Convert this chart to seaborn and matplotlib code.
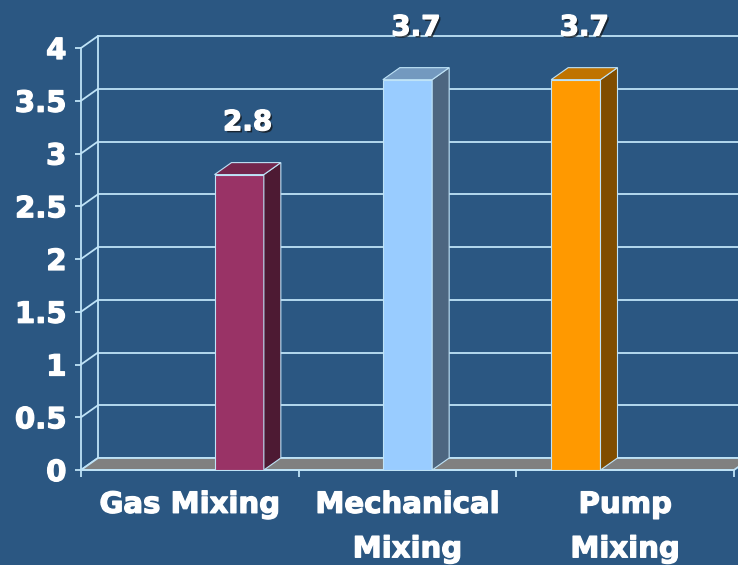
import numpy as np
import pandas as pd
import seaborn as sns
import matplotlib.pyplot as plt
import matplotlib.patheffects as pe
from matplotlib.patches import Polygon, Rectangle
from matplotlib.colors import to_rgb

# ---- data -------------------------------------------------------------
categories = ["Gas Mixing", "Mechanical\nMixing", "Pump\nMixing"]
methods = ["Gas Mixing", "Mechanical Mixing", "Pump Mixing"]
values = [2.8, 3.7, 3.7]
# series order inside each category group (left -> right slot)
slot_order = ["Pump Mixing", "Mechanical Mixing", "Gas Mixing"]
front_colors = {"Gas Mixing": "#993366",
                "Mechanical Mixing": "#99CCFF",
                "Pump Mixing": "#FF9900"}
y_ticks = [0, 0.5, 1, 1.5, 2, 2.5, 3, 3.5, 4]
y_tick_labels = ["0", "0.5", "1", "1.5", "2", "2.5", "3", "3.5", "4"]

# ---- style ------------------------------------------------------------
BG = "#2B5782"
LINE = "#BFE3F7"
FLOOR = "#808080"
DEPTH_PX = (17, 12)          # 3-D depth offset of the chart, in pixels

sns.set_theme(style="white")
plt.rcParams["font.family"] = ["DejaVu Sans"]
plt.rcParams["font.weight"] = "bold"

heavy = [pe.withStroke(linewidth=0.9, foreground="white")]

W, H = 738, 565
fig = plt.figure(figsize=(W / 100, H / 100), dpi=100, facecolor=BG)
ax = fig.add_axes([81 / W, 95 / H, 653 / W, 422 / H])
ax.set_facecolor("none")

df = pd.DataFrame({"category": categories, "method": methods, "value": values})
sns.barplot(data=df, x="category", y="value", hue="method",
            order=categories, hue_order=slot_order, palette=front_colors,
            saturation=1, width=0.68, dodge=True, edgecolor=LINE,
            linewidth=0.8, legend=False, ax=ax, zorder=3)
bars = [p for p in ax.patches
        if isinstance(p, Rectangle) and np.isfinite(p.get_height()) and p.get_height() > 0]

x0, x1 = -0.5, 2.5
ax.set_xlim(x0, x1)
ax.set_ylim(0, 4)
ax.set_xlabel("")
ax.set_ylabel("")

# depth offset converted to data units
origin = ax.transData.transform((0, 0))
dx, dy = ax.transData.inverted().transform(origin + np.array(DEPTH_PX))

# ---- back wall grid and side wall diagonals ---------------------------
for v in y_ticks:
    ax.plot([x0 + dx, x1 + dx], [v + dy, v + dy], color=LINE, lw=1.3,
            clip_on=False, zorder=0.5)
    ax.plot([x0, x0 + dx], [v, v + dy], color=LINE, lw=1.3,
            clip_on=False, zorder=0.5)
ax.plot([x0 + dx, x0 + dx], [dy, y_ticks[-1] + dy], color=LINE, lw=1.3,
        clip_on=False, zorder=0.5)

# ---- floor ------------------------------------------------------------
ax.add_patch(Polygon([(x0, 0), (x1, 0), (x1 + dx, dy), (x0 + dx, dy)],
                     closed=True, facecolor=FLOOR, edgecolor=LINE, lw=1.3,
                     clip_on=False, zorder=1))

# ---- 3-D faces of the bars and value labels ---------------------------
for bar in bars:
    h = bar.get_height()
    xl, w = bar.get_x(), bar.get_width()
    front = np.array(to_rgb(bar.get_facecolor()))
    top = Polygon([(xl, h), (xl + w, h), (xl + w + dx, h + dy), (xl + dx, h + dy)],
                  closed=True, facecolor=front * 0.75, edgecolor=LINE, lw=0.8,
                  clip_on=False, zorder=3)
    side = Polygon([(xl + w, 0), (xl + w + dx, dy), (xl + w + dx, h + dy), (xl + w, h)],
                   closed=True, facecolor=front * 0.5, edgecolor=LINE, lw=0.8,
                   clip_on=False, zorder=3)
    ax.add_patch(side)
    ax.add_patch(top)
    ax.text(xl + w / 2 + dx / 2, h + 0.42, f"{h:.1f}", ha="center", va="baseline",
            fontsize=20, fontweight="bold", color="white", zorder=5,
            clip_on=False,
            path_effects=[pe.withSimplePatchShadow(offset=(1.5, -1.5),
                                                   shadow_rgbFace="#111111",
                                                   alpha=0.7)] + heavy)

# ---- axes, ticks, labels ----------------------------------------------
for s in ("top", "right"):
    ax.spines[s].set_visible(False)
for s in ("left", "bottom"):
    ax.spines[s].set_color(LINE)
    ax.spines[s].set_linewidth(1.3)
    ax.spines[s].set_zorder(2)

ax.set_yticks(y_ticks)
ax.set_yticklabels(y_tick_labels)
ax.tick_params(axis="y", left=True, length=4.5, width=1.3, color=LINE,
               pad=6, labelsize=21, labelcolor="white")

ax.set_xticks([0, 1, 2])
ax.set_xticklabels(categories)
ax.set_xticks([-0.5, 0.5, 1.5, 2.5], minor=True)
ax.tick_params(axis="x", which="major", bottom=True, length=0, pad=15,
               labelsize=21, labelcolor="white")
ax.tick_params(axis="x", which="minor", bottom=True, length=5, width=1.3,
               color=LINE)
for lab in ax.get_xticklabels() + ax.get_yticklabels():
    lab.set_fontweight("bold")
    lab.set_path_effects(heavy)
for lab in ax.get_xticklabels():
    lab.set_linespacing(1.75)

# descender of the slide heading above the chart
fig.text(159 / W, 1 + 12 / H, "g", ha="center", va="baseline", fontsize=40,
         fontweight="bold", color="black",
         path_effects=[pe.withSimplePatchShadow(offset=(-1, 1),
                                                shadow_rgbFace="white",
                                                alpha=0.9)])

fig.savefig("out.png", dpi=100, facecolor=BG)
